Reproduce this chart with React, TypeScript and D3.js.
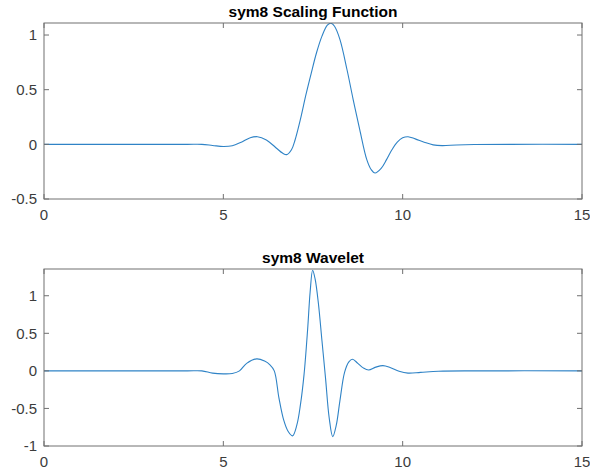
import React, { useEffect, useRef } from "react";
import * as d3 from "d3";

// values (t, value)
const scalingT = [0, 2, 4, 4.4, 4.7, 5.0, 5.25, 5.5, 5.75, 5.95, 6.2, 6.5, 6.65, 6.77, 6.9, 7.0, 7.15, 7.3, 7.45, 7.6, 7.75, 7.9, 8.0, 8.1, 8.25, 8.45, 8.62, 8.8, 9.0, 9.12, 9.23, 9.4, 9.55, 9.7, 9.85, 10.0, 10.15, 10.35, 10.6, 10.85, 11.1, 11.5, 12, 13, 15];
const scalingV = [0, 0, 0, 0.0, -0.01, -0.02, -0.013, 0.02, 0.06, 0.07, 0.04, -0.04, -0.08, -0.094, -0.05, 0.04, 0.23, 0.45, 0.65, 0.84, 0.99, 1.09, 1.108, 1.08, 0.96, 0.68, 0.41, 0.14, -0.14, -0.23, -0.262, -0.22, -0.14, -0.05, 0.02, 0.06, 0.07, 0.05, 0.02, -0.005, -0.012, -0.006, -0.002, 0, 0];

const waveletT = [0, 2, 4, 4.4, 4.7, 5.0, 5.25, 5.45, 5.65, 5.93, 6.15, 6.3, 6.42, 6.55, 6.68, 6.8, 6.93, 7.05, 7.15, 7.25, 7.35, 7.42, 7.49, 7.56, 7.65, 7.75, 7.85, 7.95, 8.05, 8.15, 8.25, 8.38, 8.5, 8.6, 8.75, 8.9, 9.05, 9.25, 9.45, 9.65, 9.9, 10.15, 10.5, 11, 12, 15];
const waveletV = [0, 0, 0, 0, -0.03, -0.04, -0.035, 0.0, 0.1, 0.16, 0.13, 0.08, 0.0, -0.36, -0.65, -0.8, -0.865, -0.72, -0.45, -0.05, 0.55, 1.05, 1.34, 1.22, 0.9, 0.4, -0.1, -0.62, -0.875, -0.72, -0.4, -0.02, 0.12, 0.155, 0.1, 0.04, 0.012, 0.05, 0.07, 0.045, -0.005, -0.03, -0.02, -0.005, 0, 0];

const xTicks = [0, 5, 10, 15];
const scalingTicks = [-0.5, 0, 0.5, 1];
const waveletTicks = [-1, -0.5, 0, 0.5, 1];

const panels = [
  { title: "sym8 Scaling Function", t: scalingT, v: scalingV, yDomain: [-0.5, 1.11], yTicks: scalingTicks, top: 23, bottom: 199 },
  { title: "sym8 Wavelet", t: waveletT, v: waveletV, yDomain: [-1, 1.356], yTicks: waveletTicks, top: 269, bottom: 446 },
];

const W = 590;
const H = 474;
const left = 44;
const right = 582;
const tickFont = "15px 'Liberation Sans', Arial, sans-serif";

const App = () => {
  const ref = useRef<SVGSVGElement>(null);

  useEffect(() => {
    const svg = d3.select(ref.current);
    svg.selectAll("*").remove();
    const x = d3.scaleLinear().domain([0, 15]).range([left, right]);

    panels.forEach((p, i) => {
      const y = d3.scaleLinear().domain(p.yDomain).range([p.bottom, p.top]);
      const g = svg.append("g");
      const axisColor = "#707070";
      const textColor = "#3c3c3c";

      const clipId = "clip" + i;
      g.append("clipPath")
        .attr("id", clipId)
        .append("rect")
        .attr("x", left)
        .attr("y", p.top)
        .attr("width", right - left)
        .attr("height", p.bottom - p.top);

      const pts = p.t.map((t, k) => [t, p.v[k]] as [number, number]);
      const line = d3
        .line<[number, number]>()
        .x((d) => x(d[0]))
        .y((d) => y(d[1]))
        .curve(d3.curveCatmullRom.alpha(0.5));

      g.append("path")
        .attr("d", line(pts))
        .attr("fill", "none")
        .attr("stroke", "#2f83c6")
        .attr("stroke-width", 1.1)
        .attr("clip-path", `url(#${clipId})`);

      // box
      g.append("rect")
        .attr("x", left)
        .attr("y", p.top)
        .attr("width", right - left)
        .attr("height", p.bottom - p.top)
        .attr("fill", "none")
        .attr("stroke", axisColor)
        .attr("stroke-width", 1);

      // inward ticks on all sides
      xTicks.forEach((t) => {
        g.append("line").attr("x1", x(t)).attr("x2", x(t)).attr("y1", p.bottom).attr("y2", p.bottom - 5).attr("stroke", axisColor);
        g.append("line").attr("x1", x(t)).attr("x2", x(t)).attr("y1", p.top).attr("y2", p.top + 5).attr("stroke", axisColor);
        g.append("text")
          .attr("x", x(t))
          .attr("y", p.bottom + 21)
          .attr("text-anchor", "middle")
          .attr("fill", textColor)
          .style("font", tickFont)
          .text(t);
      });
      p.yTicks.forEach((v) => {
        g.append("line").attr("x1", left).attr("x2", left + 5).attr("y1", y(v)).attr("y2", y(v)).attr("stroke", axisColor);
        g.append("line").attr("x1", right).attr("x2", right - 5).attr("y1", y(v)).attr("y2", y(v)).attr("stroke", axisColor);
        g.append("text")
          .attr("x", left - 7)
          .attr("y", y(v))
          .attr("dy", "0.36em")
          .attr("text-anchor", "end")
          .attr("fill", textColor)
          .style("font", tickFont)
          .text(v);
      });

      g.append("text")
        .attr("x", (left + right) / 2)
        .attr("y", p.top - 6)
        .attr("text-anchor", "middle")
        .attr("fill", "#000")
        .style("font", "bold 15.5px 'Liberation Sans', Arial, sans-serif")
        .text(p.title);
    });
  }, []);

  return (
    <svg
      ref={ref}
      width={W}
      height={H}
      style={{ position: "absolute", left: 0, top: 0, background: "#fff" }}
    />
  );
};

export default App;
